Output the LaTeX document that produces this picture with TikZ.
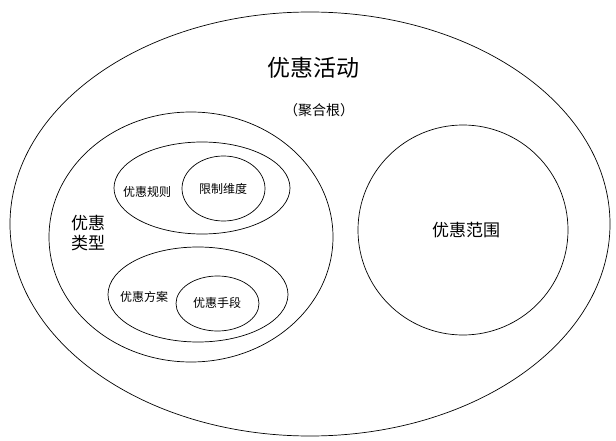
\documentclass[tikz,border=0pt]{standalone}
\usepackage{fontspec}
\setmainfont{Noto Sans CJK SC}
\usetikzlibrary{shapes.geometric}
\tikzset{
  ring/.style={draw=black, line width=0.7pt, ellipse, inner sep=0pt, outer sep=0pt},
  lbl/.style={inner sep=0pt, align=center, text=black},
}
\begin{document}
\begin{tikzpicture}[x=1pt,y=-1pt]
\useasboundingbox[fill=white] (0,0) rectangle (616,441);
% outer aggregate
\node[ring, minimum width=600pt, minimum height=424pt] (act) at (310,224) {};
\node[lbl, font=\fontsize{23}{26}\selectfont] (title) at (313,68) {优惠活动};
\node[lbl, font=\fontsize{14}{18}\selectfont] (root) at (319,110) {（聚合根）};
% discount type
\node[ring, minimum width=284pt, minimum height=250pt] (type) at (191,237) {};
\node[lbl, font=\fontsize{17}{20}\selectfont] (typel) at (88,233) {优惠\\类型};
% rule
\node[ring, minimum width=176pt, minimum height=92pt] (rule) at (202,188) {};
\node[lbl, font=\fontsize{12}{14}\selectfont] (rulel) at (147,192) {优惠规则};
\node[ring, minimum width=83pt, minimum height=65pt] (dim) at (223.5,188.5) {};
\node[lbl, font=\fontsize{12}{14}\selectfont] (diml) at (223,189) {限制维度};
% plan
\node[ring, minimum width=180pt, minimum height=95pt] (plan) at (198,294.5) {};
\node[lbl, font=\fontsize{12}{14}\selectfont] (planl) at (144,297) {优惠方案};
\node[ring, minimum width=83pt, minimum height=55pt] (means) at (217.5,303.5) {};
\node[lbl, font=\fontsize{12}{14}\selectfont] (meansl) at (217,303) {优惠手段};
% scope
\node[ring, minimum width=210pt, minimum height=210pt] (scope) at (463,230) {};
\node[lbl, font=\fontsize{17}{20}\selectfont] (scopel) at (466,230) {优惠范围};
\end{tikzpicture}
\end{document}
